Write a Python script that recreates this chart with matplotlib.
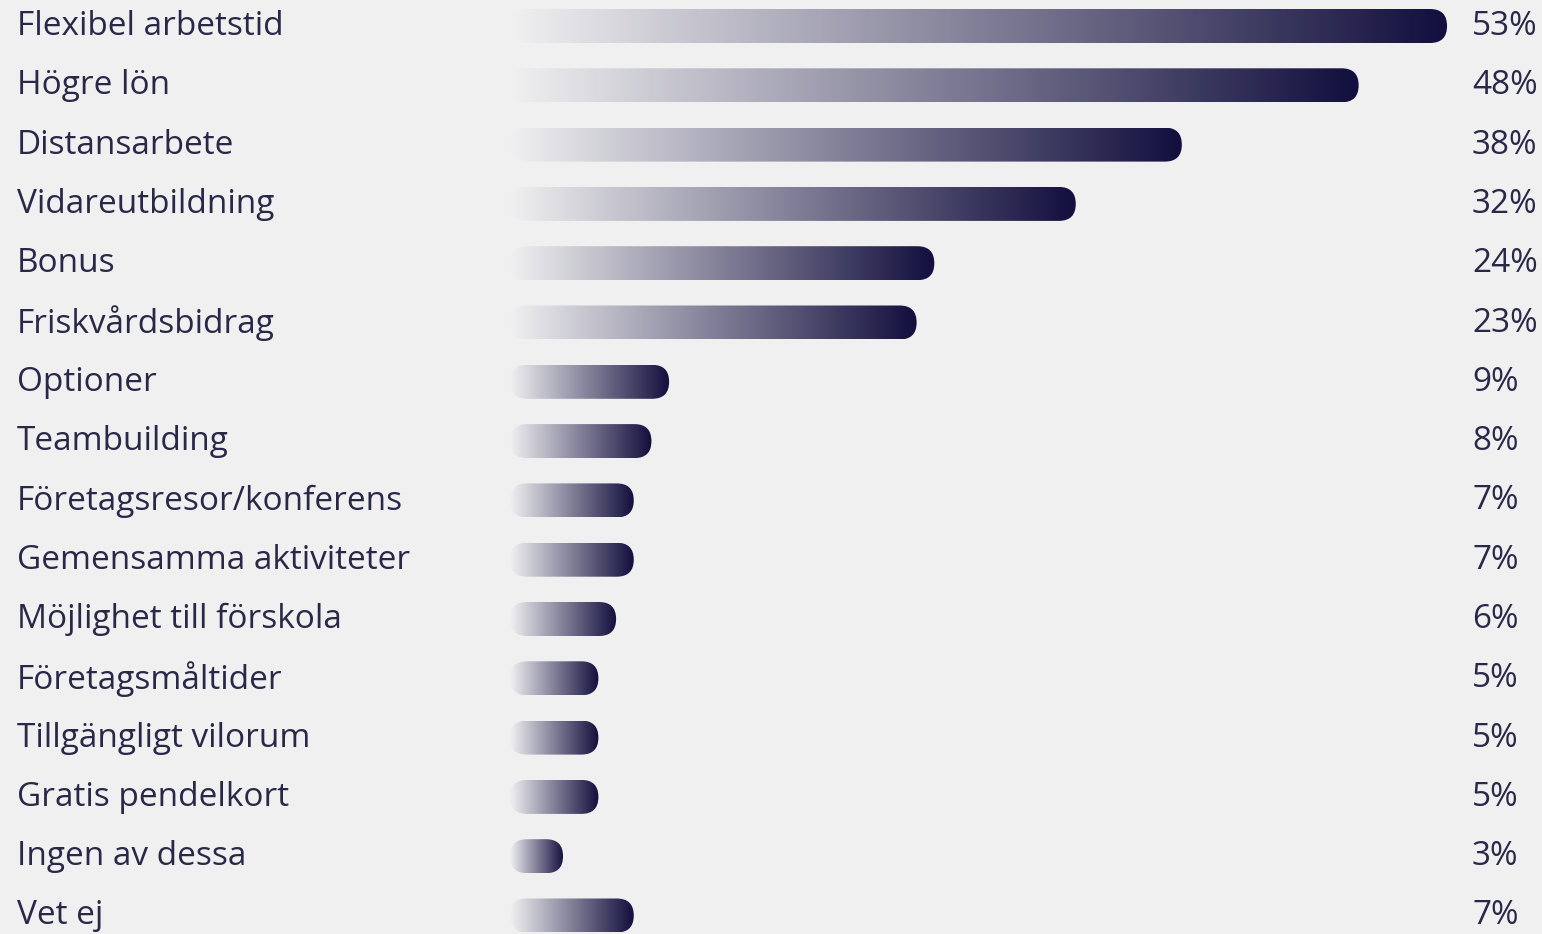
import numpy as np
import matplotlib.pyplot as plt
from matplotlib.colors import LinearSegmentedColormap
from matplotlib.patches import FancyBboxPatch

categories = [
    "Flexibel arbetstid", "Högre lön", "Distansarbete", "Vidareutbildning",
    "Bonus", "Friskvårdsbidrag", "Optioner", "Teambuilding",
    "Företagsresor/konferens", "Gemensamma aktiviteter",
    "Möjlighet till förskola", "Företagsmåltider", "Tillgängligt vilorum",
    "Gratis pendelkort", "Ingen av dessa", "Vet ej",
]
values = [53, 48, 38, 32, 24, 23, 9, 8, 7, 7, 6, 5, 5, 5, 3, 7]

bg = "#f0f0f0"
navy = "#130f3e"
text_col = "#2a2848"

W, H = 1542, 934
fig = plt.figure(figsize=(W / 100, H / 100), dpi=100, facecolor=bg)

# axes starts where the bars start; pixel scale: ~17.7 px per %, ~59.3 px per row
px_per_pct = 17.68
row_px = 59.3
x0_px = 510
ax = fig.add_axes([x0_px / W, 0, 1 - x0_px / W, 1])
ax.set_facecolor(bg)
ax.set_xlim(0, (W - x0_px) / px_per_pct)
top = -26 / row_px
ax.set_ylim((H - 26) / row_px, top)
ax.axis("off")

cmap = LinearSegmentedColormap.from_list("fade", ["#f0f0f1", navy])
grad = np.linspace(0, 1, 256).reshape(1, -1)

bar_h = 34 / row_px
radius = 17 / px_per_pct
aspect = px_per_pct / row_px

for i, (cat, v) in enumerate(zip(categories, values)):
    y0 = i - bar_h / 2
    patch = FancyBboxPatch((0, y0), v, bar_h,
                           boxstyle=f"round,pad=0,rounding_size={radius}",
                           mutation_aspect=aspect, facecolor="none",
                           edgecolor="none")
    ax.add_patch(patch)
    im = ax.imshow(grad, cmap=cmap, aspect="auto",
                   extent=[0, v, i + bar_h / 2, y0], interpolation="bicubic")
    im.set_clip_path(patch)

    fig.text(17 / W, 1 - (26.5 + i * row_px) / H, cat, ha="left", va="center",
             fontsize=24, family="Open Sans", color=text_col)
    ax.text((1472 - x0_px) / px_per_pct, i + 0.5 / row_px, f"{v}%",
            ha="left", va="center",
            fontsize=24, family="Open Sans", color=text_col)

fig.savefig("out.png", dpi=100, facecolor=bg)
